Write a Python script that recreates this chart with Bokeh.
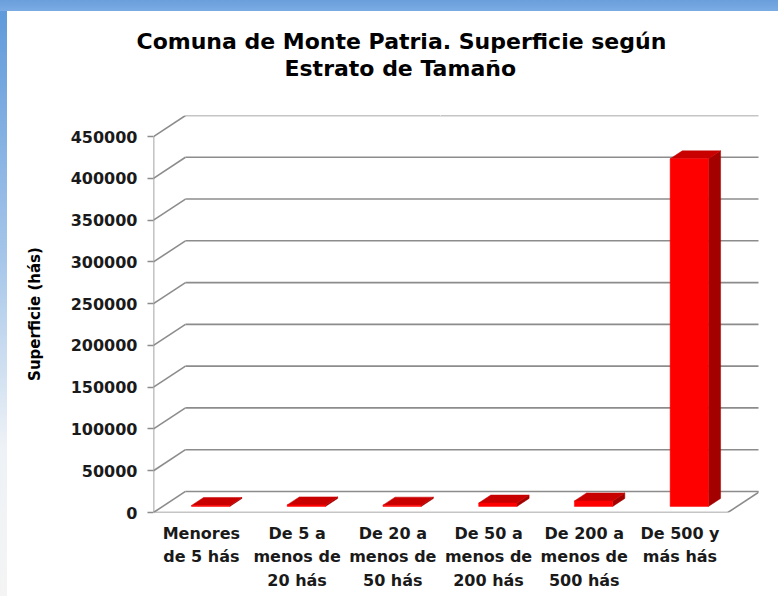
from bokeh.plotting import figure
from bokeh.models import Range1d, FixedTicker, Title, LinearAxis
from bokeh.embed import file_html
from bokeh.resources import INLINE

# ---- data ----
categories = ["Menores\nde 5 hás", "De 5 a\nmenos de\n20 hás", "De 20 a\nmenos de\n50 hás",
              "De 50 a\nmenos de\n200 hás", "De 200 a\nmenos de\n500 hás", "De 500 y\nmás hás"]
superficie = [1100, 1800, 1500, 4000, 6500, 416000]
y_ticks = [0, 50000, 100000, 150000, 200000, 250000, 300000, 350000, 400000, 450000]
title_lines = ["Comuna de Monte Patria. Superficie según", "Estrato de Tamaño"]
y_title = "Superficie (hás)"

# ---- 3-D styling constants ----
N = len(categories)
DEPTH_X = 0.334      # box depth, in category units
DEPTH_Y = 25200      # box depth, in value units
T0, T1 = 0.29, 0.67  # bar depth position (fraction of box depth)
HALF_W = 0.20        # half bar width, in category units
FONT = "DejaVu Sans"
GRID = "#8c8c8c"

p = figure(width=771, height=585, output_backend="svg", toolbar_location=None,
           x_range=Range1d(0, 6.32), y_range=Range1d(0, 475200),
           min_border_left=146, min_border_right=20, min_border_top=104, min_border_bottom=84,
           background_fill_color="white", border_fill_color="white")
p.outline_line_color = None
p.grid.visible = False

ymax = max(y_ticks)

# back wall gridlines and side wall diagonals
p.segment(x0=[DEPTH_X] * len(y_ticks), y0=[v + DEPTH_Y for v in y_ticks],
          x1=[N + DEPTH_X] * len(y_ticks), y1=[v + DEPTH_Y for v in y_ticks],
          line_color=GRID, line_width=1.6)
p.segment(x0=[0] * len(y_ticks), y0=y_ticks,
          x1=[DEPTH_X] * len(y_ticks), y1=[v + DEPTH_Y for v in y_ticks],
          line_color=GRID, line_width=1.6)
# floor front edge + right edge, front axis line
p.segment(x0=[0, N, 0], y0=[0, 0, 0], x1=[N, N + DEPTH_X, 0], y1=[0, DEPTH_Y, ymax],
          line_color=GRID, line_width=1.6)

# bars
front_l, front_r, front_b, front_t = [], [], [], []
side_xs, side_ys, top_xs, top_ys = [], [], [], []
ddx = (T1 - T0) * DEPTH_X
ddy = (T1 - T0) * DEPTH_Y
for i, v in enumerate(superficie):
    cx = i + 0.5
    l = cx - HALF_W + T0 * DEPTH_X
    r = cx + HALF_W + T0 * DEPTH_X
    b = T0 * DEPTH_Y
    t = v + T0 * DEPTH_Y
    front_l.append(l); front_r.append(r); front_b.append(b); front_t.append(t)
    side_xs.append([r, r + ddx, r + ddx, r])
    side_ys.append([b, b + ddy, t + ddy, t])
    top_xs.append([l, r, r + ddx, l + ddx])
    top_ys.append([t, t, t + ddy, t + ddy])

p.patches(xs=side_xs, ys=side_ys, fill_color="#a30000", line_color="#a30000", line_width=0.5)
p.patches(xs=top_xs, ys=top_ys, fill_color="#c80000", line_color="#c80000", line_width=0.5)
p.quad(left=front_l, right=front_r, bottom=front_b, top=front_t,
       fill_color="#ff0000", line_color="#ff0000", line_width=0.5)

# axes
p.yaxis.ticker = FixedTicker(ticks=y_ticks)
p.yaxis.major_label_overrides = {v: str(v) for v in y_ticks}
p.yaxis.axis_line_color = None
p.yaxis.major_tick_line_color = GRID
p.yaxis.major_tick_line_width = 1.6
p.yaxis.major_tick_out = 6
p.yaxis.major_tick_in = 0
p.yaxis.minor_tick_line_color = None
p.yaxis.major_label_standoff = 10
p.yaxis.major_label_text_font = FONT
p.yaxis.major_label_text_font_style = "bold"
p.yaxis.major_label_text_font_size = "16px"
p.yaxis.major_label_text_color = "#1a1a1a"
p.yaxis.axis_label = y_title
p.yaxis.axis_label_text_font = FONT
p.yaxis.axis_label_text_font_style = "bold"
p.yaxis.axis_label_text_font_size = "15px"
p.yaxis.axis_label_text_color = "black"
p.yaxis.axis_label_standoff = 24

p.xaxis.ticker = FixedTicker(ticks=[i + 0.5 for i in range(N)])
p.xaxis.major_label_overrides = {i + 0.5: c for i, c in enumerate(categories)}
p.xaxis.axis_line_color = None
p.xaxis.major_tick_line_color = None
p.xaxis.minor_tick_line_color = None
p.xaxis.major_label_standoff = 5
p.xaxis.major_label_text_font = FONT
p.xaxis.major_label_text_font_style = "bold"
p.xaxis.major_label_text_font_size = "16px"
p.xaxis.major_label_text_line_height = 1.25
p.xaxis.major_label_text_color = "#1a1a1a"

# invisible spacer panel between plot box and title (white tick on white, empty label)
spacer = LinearAxis(ticker=FixedTicker(ticks=[3.0]), major_label_overrides={3.0: ""},
                    axis_line_color=None, major_tick_line_color="white",
                    minor_tick_line_color=None, major_tick_out=35, major_tick_in=0,
                    minor_tick_out=0, major_label_standoff=0)
p.add_layout(spacer, "above")

# title: two lines, left-aligned with offsets so both are centred near page x=400
p.add_layout(Title(text=title_lines[1], align="left", offset=131, standoff=0,
                   text_font=FONT, text_font_style="bold", text_font_size="22px",
                   text_color="black"), "above")
p.add_layout(Title(text=title_lines[0], align="left", offset=-17, standoff=0,
                   text_font=FONT, text_font_style="bold", text_font_size="22px",
                   text_color="black"), "above")

html = file_html(p, INLINE)
css = ("<style>html, body { margin: 0 !important; } "
       "body { box-sizing: border-box; padding: 11px 0 0 7px !important; "
       "background: linear-gradient(to bottom, #6a9fdc 0px, #7aabe3 11px, rgba(0,0,0,0) 11px), "
       "linear-gradient(to bottom, #5d98da 0%, #a9c8ea 45%, #eef2f6 75%, #f4f4f4 100%) 0 0 / 7px 100% no-repeat, "
       "#ffffff !important; }</style>")
html = html.replace("</head>", css + "</head>", 1)
open("out.html", "w").write(html)
